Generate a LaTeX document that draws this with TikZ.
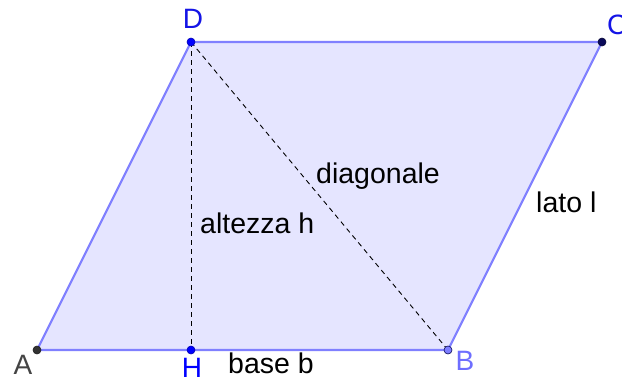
\documentclass[tikz,border=0pt]{standalone}
\usepackage{fontspec}
\setmainfont{Liberation Sans}
\begin{document}
\begin{tikzpicture}[x=1pt,y=-1pt,
  lbl/.style={inner sep=0pt,anchor=base west,font=\fontsize{28.5}{32}\selectfont},
  ptlbl/.style={inner sep=0pt,anchor=center,font=\fontsize{28}{32}\selectfont},
  pt/.style={circle,inner sep=0pt,minimum size=8pt,draw=#1!60!black,fill=#1,line width=0.6pt},
  side/.style={draw=polyline,line width=2.2pt,line join=round},
  dashline/.style={draw=black,line width=0.9pt,dash pattern=on 5pt off 4pt}]
\definecolor{polyfill}{RGB}{229,229,255}
\definecolor{polyline}{RGB}{128,128,255}
\definecolor{ptA}{RGB}{50,50,50}
\definecolor{ptB}{RGB}{125,125,255}
\definecolor{ptC}{RGB}{10,10,90}
\definecolor{ptBlue}{RGB}{0,0,255}
\definecolor{lblA}{RGB}{68,68,68}
\definecolor{lblB}{RGB}{110,110,255}
\definecolor{lblD}{RGB}{20,20,230}
\useasboundingbox (0,0) rectangle (622,381);
\fill[white] (0,0) rectangle (622,381);
\coordinate (A) at (37,350);
\coordinate (B) at (448,350);
\coordinate (C) at (602,42);
\coordinate (D) at (191,42);
\coordinate (H) at (191,350);
\fill[polyfill] (A) -- (B) -- (C) -- (D) -- cycle;
\draw[side] (A) -- (B) -- (C) -- (D) -- cycle;
\draw[dashline] (D) -- (H);
\draw[dashline] (D) -- (B);
\node[pt=ptA] (pA) at (A) {};
\node[pt=ptB,draw=ptC] (pB) at (B) {};
\node[pt=ptC] (pC) at (C) {};
\node[pt=ptBlue,draw=ptBlue!70!black] (pD) at (D) {};
\node[pt=ptBlue,draw=ptBlue!70!black] (pH) at (H) {};
\node[ptlbl,text=lblA] (lA) at (23,365) {A};
\node[ptlbl,text=lblB] (lB) at (465,361) {B};
\node[ptlbl,text=lblD,anchor=west] (lC) at (607,25) {C};
\node[ptlbl,text=lblD] (lD) at (193,19) {D};
\node[ptlbl,text=ptBlue] (lH) at (192,368) {H};
\node[lbl] (alt) at (200,233) {altezza h};
\node[lbl] (diag) at (316,183) {diagonale};
\node[lbl] (base) at (228,373) {base b};
\node[lbl] (lato) at (536,212) {lato l};
\end{tikzpicture}
\end{document}
